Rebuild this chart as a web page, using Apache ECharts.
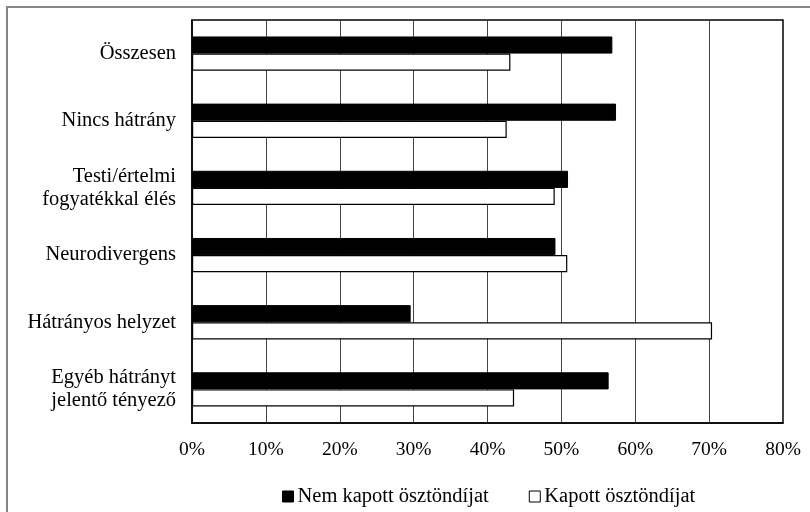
<!DOCTYPE html>
<html>
<head>
<meta charset="utf-8">
<script src="https://cdn.jsdelivr.net/npm/echarts@6/dist/echarts.min.js"></script>
<style>
  html, body { margin: 0; padding: 0; background: #fff; }
  #chart { width: 810px; height: 512px; }
</style>
</head>
<body>
<div id="chart"></div>
<script>
// Groups, from top to bottom
const categories = [
  'Összesen',
  'Nincs hátrány',
  'Testi/értelmi\nfogyatékkal élés',
  'Neurodivergens',
  'Hátrányos helyzet',
  'Egyéb hátrányt\njelentő tényező'
];
// Shares in percent
const nemKapott = [56.9, 57.4, 50.9, 49.2, 29.6, 56.4];
const kapott    = [43.1, 42.6, 49.1, 50.8, 70.4, 43.6];
const seriesNames = ['Nem kapott ösztöndíjat', 'Kapott ösztöndíjat'];
const xTicks = [0, 10, 20, 30, 40, 50, 60, 70, 80];

const FONT = 'Liberation Serif';
const LABEL_SIZE = 20.5;
const chart = echarts.init(document.getElementById('chart'), null, { renderer: 'canvas' });

chart.setOption({
  animation: false,
  backgroundColor: '#fff',
  textStyle: { fontFamily: FONT, color: '#000' },
  graphic: [{
    type: 'rect',
    shape: { x: 7, y: 7, width: 820, height: 520 },
    style: { fill: 'none', stroke: '#868686', lineWidth: 2 },
    silent: true, z: -1
  }],
  grid: {
    left: 192, right: 27, top: 20, bottom: 89,
    show: true, borderColor: '#000', borderWidth: 1.5, backgroundColor: 'transparent'
  },
  legend: {
    data: [
      { name: seriesNames[0], icon: 'rect', itemStyle: { color: '#000', borderColor: '#000', borderWidth: 1 } },
      { name: seriesNames[1], icon: 'rect', itemStyle: { color: '#fff', borderColor: '#000', borderWidth: 1 } }
    ],
    left: 277, top: 481,
    itemWidth: 11, itemHeight: 11, itemGap: 40,
    textStyle: { fontFamily: FONT, fontSize: LABEL_SIZE, color: '#000', padding: [0, 0, 0, -1] }
  },
  xAxis: {
    type: 'value',
    min: xTicks[0], max: xTicks[xTicks.length - 1], interval: 10,
    axisLine: { show: true, lineStyle: { color: '#000', width: 1.5 } },
    axisTick: { show: false },
    axisLabel: { formatter: v => v + '%', fontFamily: FONT, fontSize: 19.5, color: '#000', margin: 17 },
    splitLine: { show: true, lineStyle: { color: '#444', width: 1 } }
  },
  yAxis: {
    type: 'category',
    data: categories,
    inverse: true,
    axisLine: { show: true, lineStyle: { color: '#000', width: 1.5 } },
    axisTick: { show: false },
    axisLabel: { fontFamily: FONT, fontSize: LABEL_SIZE, color: '#000', margin: 16, lineHeight: 23, align: 'right' },
    splitLine: { show: false }
  },
  series: [
    {
      name: seriesNames[0], type: 'bar', data: nemKapott,
      barGap: '0%', barCategoryGap: '49%',
      itemStyle: { color: '#000', borderColor: '#000', borderWidth: 1 }
    },
    {
      name: seriesNames[1], type: 'bar', data: kapott,
      barGap: '0%', barCategoryGap: '49%',
      itemStyle: { color: '#fff', borderColor: '#000', borderWidth: 1.2 }
    }
  ]
});
</script>
</body>
</html>
